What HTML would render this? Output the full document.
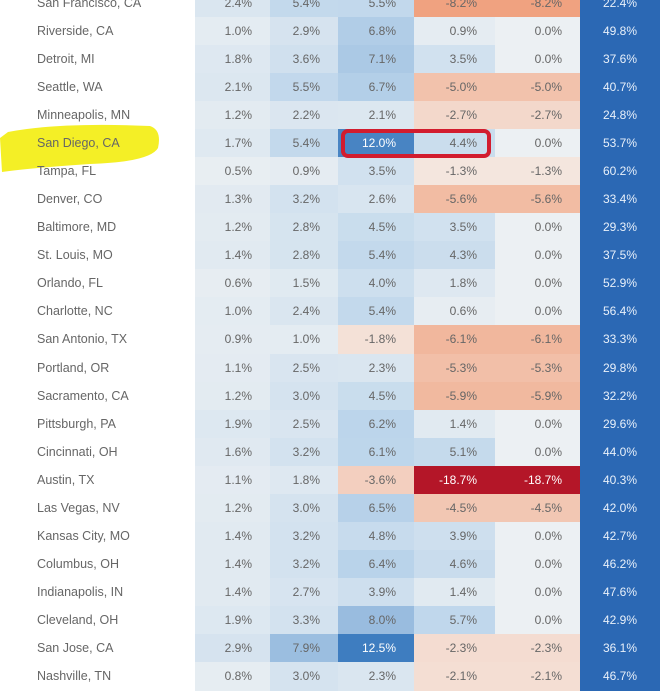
<!DOCTYPE html>
<html><head><meta charset="utf-8"><style>
body{margin:0;width:664px;height:675px;overflow:hidden;background:#fff;font-family:"Liberation Sans",sans-serif;position:relative}
.c{position:absolute;height:29px;line-height:28px;font-size:12px;color:#666;box-sizing:border-box;text-align:right;padding-right:18px}
.n{position:absolute;height:28px;line-height:28px;font-size:12.5px;color:#666;left:37px}
</style></head><body>
<svg style="position:absolute;left:0;top:118px" width="170" height="58"><path d="M8 14 Q60 4 150 8 Q162 12 158 30 Q150 44 90 46 Q30 50 2 54 L0 20 Z" fill="#f3ee1a" opacity="0.95"/></svg>
<div id="t"></div>
<div style="position:absolute;left:341px;top:129px;width:150px;height:29px;border:4px solid #d21c2e;border-radius:7px;box-sizing:border-box"></div>
<script>
const cities=["San Francisco, CA","Riverside, CA","Detroit, MI","Seattle, WA","Minneapolis, MN","San Diego, CA","Tampa, FL","Denver, CO","Baltimore, MD","St. Louis, MO","Orlando, FL","Charlotte, NC","San Antonio, TX","Portland, OR","Sacramento, CA","Pittsburgh, PA","Cincinnati, OH","Austin, TX","Las Vegas, NV","Kansas City, MO","Columbus, OH","Indianapolis, IN","Cleveland, OH","San Jose, CA","Nashville, TN"];
const col1=[2.4,1.0,1.8,2.1,1.2,1.7,0.5,1.3,1.2,1.4,0.6,1.0,0.9,1.1,1.2,1.9,1.6,1.1,1.2,1.4,1.4,1.4,1.9,2.9,0.8];
const col2=[5.4,2.9,3.6,5.5,2.2,5.4,0.9,3.2,2.8,2.8,1.5,2.4,1.0,2.5,3.0,2.5,3.2,1.8,3.0,3.2,3.2,2.7,3.3,7.9,3.0];
const col3=[5.5,6.8,7.1,6.7,2.1,12.0,3.5,2.6,4.5,5.4,4.0,5.4,-1.8,2.3,4.5,6.2,6.1,-3.6,6.5,4.8,6.4,3.9,8.0,12.5,2.3];
const col4=[-8.2,0.9,3.5,-5.0,-2.7,4.4,-1.3,-5.6,3.5,4.3,1.8,0.6,-6.1,-5.3,-5.9,1.4,5.1,-18.7,-4.5,3.9,4.6,1.4,5.7,-2.3,-2.1];
const col5=[-8.2,0.0,0.0,-5.0,-2.7,0.0,-1.3,-5.6,0.0,0.0,0.0,0.0,-6.1,-5.3,-5.9,0.0,0.0,-18.7,-4.5,0.0,0.0,0.0,0.0,-2.3,-2.1];
const col6=[22.4,49.8,37.6,40.7,24.8,53.7,60.2,33.4,29.3,37.5,52.9,56.4,33.3,29.8,32.2,29.6,44.0,40.3,42.0,42.7,46.2,47.6,42.9,36.1,46.7];
const cols=[col1,col2,col3,col4,col5];
const xs=[195,270,338,414,495,580],ws=[75,68,76,81,85,80];
function mix(a,b,t){return a.map((v,i)=>Math.round(v+(b[i]-v)*t));}
function color(v){
 const neu=[245,243,240];
 if(v>=0){const t=Math.min(v/12.5,1);
  if(t<0.5)return mix([236,240,243],[188,213,235],t/0.5);return mix([188,213,235],[62,125,192],(t-0.5)/0.5);}
 const t=Math.min(-v/18.7,1);
 if(t<0.45)return mix(neu,[240,160,125],t/0.45);return mix([240,160,125],[180,22,40],(t-0.45)/0.55);
}
const T=document.getElementById('t');
const y0=-11,rh=28.04;
cities.forEach((c,i)=>{
 const top=Math.round(y0+i*rh);
 const n=document.createElement('div');n.className='n';n.style.top=top+'px';n.textContent=c;
 
 
 T.appendChild(n);
 cols.forEach((arr,j)=>{
  const v=arr[i];const d=document.createElement('div');d.className='c';
  d.style.left=xs[j]+'px';d.style.width=ws[j]+'px';d.style.top=top+'px';
  const col=color(v);d.style.background='rgb('+col.join(',')+')';
  if(Math.abs(v)>=10)d.style.color='#fff';
  d.textContent=v.toFixed(1)+'%';
  
  
  T.appendChild(d);
 });
 const d=document.createElement('div');d.className='c';
 d.style.left=xs[5]+'px';d.style.width=ws[5]+'px';d.style.top=top+'px';
 d.style.background='#2b68b4';d.style.color='#e8f0fa';d.style.textAlign='center';d.style.padding='0';
 d.textContent=col6[i].toFixed(1)+'%';
 
 
 T.appendChild(d);
});
</script>
</body></html>
